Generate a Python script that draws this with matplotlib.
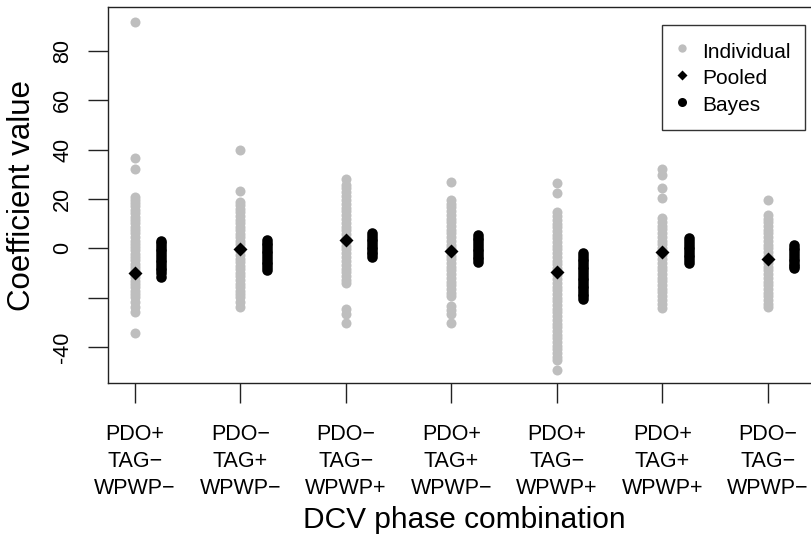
import matplotlib
matplotlib.use("Agg")
import matplotlib.pyplot as plt
from matplotlib.lines import Line2D

# --- data ---
categories = ["PDO+\nTAG\u2212\nWPWP\u2212", "PDO\u2212\nTAG+\nWPWP\u2212", "PDO\u2212\nTAG\u2212\nWPWP+",
              "PDO+\nTAG+\nWPWP\u2212", "PDO+\nTAG\u2212\nWPWP+", "PDO+\nTAG+\nWPWP+",
              "PDO\u2212\nTAG\u2212\nWPWP\u2212"]

ind_1 = [91.7, 36.7, 32.1, 20.9, 19.5, 18.2, 17.0, 15.6, 14.1, 12.8, 11.4, 10.1, 8.7, 7.2, 6.0, 4.6,
         3.1, 1.9, 0.5, -0.8, -2.2, -3.5, -4.9, -6.3, -7.6, -9.0, -10.4, -11.7, -13.1, -14.4, -15.8,
         -17.2, -18.5, -19.9, -21.6, -23.8, -25.7, -34.3]
ind_2 = [40.0, 23.2, 18.9, 17.4, 16.0, 14.5, 13.1, 11.6, 10.2, 8.8, 7.3, 5.9, 4.4, 3.0, 1.6, 0.1,
         -1.3, -2.8, -4.2, -5.7, -7.1, -8.5, -10.0, -11.4, -12.9, -14.3, -15.8, -17.2, -18.7,
         -19.8, -21.6, -23.6]
ind_3 = [28.2, 25.8, 24.4, 22.6, 21.0, 19.5, 18.0, 16.4, 14.9, 13.4, 11.8, 10.3, 8.7, 7.2, 5.7,
         4.1, 2.6, 1.1, -0.5, -2.0, -3.6, -5.1, -6.6, -8.2, -9.7, -11.2, -12.8, -14.0, -24.6,
         -26.8, -30.2]
ind_4 = [27.0, 19.6, 18.1, 16.6, 15.1, 13.6, 12.0, 10.5, 9.0, 7.5, 6.0, 4.5, 3.0, 1.5, 0.0, -1.5,
         -3.0, -4.5, -6.0, -7.5, -9.0, -10.5, -12.0, -13.5, -15.0, -16.5, -18.0, -19.2, -23.4,
         -25.0, -26.8, -30.2]
ind_5 = [26.4, 22.3, 14.5, 13.0, 11.5, 10.0, 8.5, 7.0, 5.5, 4.0, 2.5, 1.0, -0.5, -2.0, -3.5, -5.0,
         -6.5, -8.0, -9.5, -11.0, -12.5, -14.0, -15.5, -17.0, -18.5, -20.0, -21.5, -23.0, -24.5,
         -26.0, -27.5, -29.0, -30.5, -32.0, -33.5, -35.0, -36.5, -38.0, -39.5, -41.0, -42.5,
         -44.0, -45.3, -49.4]
ind_6 = [32.0, 29.7, 24.3, 20.2, 12.1, 10.6, 9.1, 7.6, 6.1, 4.6, 3.1, 1.6, 0.1, -1.4, -2.9, -4.4,
         -5.9, -7.4, -8.9, -10.4, -11.9, -13.4, -14.9, -16.4, -17.9, -19.4, -20.9, -22.4, -24.3]
ind_7 = [19.6, 13.5, 12.0, 10.5, 9.0, 7.5, 6.0, 4.5, 3.0, 1.5, 0.0, -1.5, -3.0, -4.5, -6.0, -7.5,
         -9.0, -10.5, -12.0, -13.5, -15.0, -16.5, -18.0, -19.5, -21.0, -22.4, -23.6]
individual = [ind_1, ind_2, ind_3, ind_4, ind_5, ind_6, ind_7]

pooled = [-10.0, -0.3, 3.4, -1.0, -9.5, -1.6, -4.5]

bayes_1 = [3.1, 2.0, 0.9, -0.2, -1.3, -2.4, -3.5, -4.6, -5.7, -6.8, -7.9, -9.0, -10.1, -11.5]
bayes_2 = [3.4, 2.3, 1.2, 0.1, -1.0, -2.1, -3.2, -4.3, -5.4, -6.5, -7.6, -9.0]
bayes_3 = [6.1, 5.0, 3.9, 2.8, 1.7, 0.6, -0.5, -1.6, -2.5, -3.4]
bayes_4 = [5.4, 4.3, 3.2, 2.1, 1.0, -0.1, -1.2, -2.3, -3.4, -4.4, -5.4]
bayes_5 = [-2.0, -3.1, -4.2, -5.3, -6.4, -7.5, -8.6, -9.7, -10.8, -11.9, -13.0, -14.1, -15.2,
           -16.3, -17.4, -18.5, -19.5, -20.5]
bayes_6 = [4.0, 2.9, 1.8, 0.7, -0.4, -1.5, -2.6, -3.7, -4.9, -6.1]
bayes_7 = [1.3, 0.2, -0.9, -2.0, -3.1, -4.2, -5.3, -6.4, -7.3, -8.1]
bayes = [bayes_1, bayes_2, bayes_3, bayes_4, bayes_5, bayes_6, bayes_7]

y_ticks = [-40, -20, 0, 20, 40, 60, 80]
y_tick_labels = ["-40", "", "0", "20", "40", "60", "80"]

bayes_offset = 0.25
grey = "#BEBEBE"


def main():
    plt.rcParams["font.family"] = ["Liberation Sans", "DejaVu Sans"]

    fig = plt.figure(figsize=(8.11, 5.37), dpi=100)
    ax = fig.add_axes([108.3 / 811, 1 - 383.3 / 537, (820.75 - 108.3) / 811, (383.3 - 7.3) / 537])

    # individual estimates (grey), pooled (diamond), Bayes (black, shifted right)
    for i, vals in enumerate(individual):
        ax.plot([i + 1] * len(vals), vals, "o", color=grey, ms=7.2, mec="none", zorder=2)
    ax.plot(range(1, len(pooled) + 1), pooled, "D", color="black", ms=7.2, mec="none", zorder=3)
    for i, vals in enumerate(bayes):
        ax.plot([i + 1 + bayes_offset] * len(vals), vals, "o", color="black", ms=7.6, mec="none",
                zorder=3)

    ax.set_xlim(0.75, 7.5)
    ax.set_ylim(-54.7, 97.6)

    ax.set_xticks(range(1, len(categories) + 1))
    ax.set_xticklabels(categories, fontsize=15.5, linespacing=1.36)
    ax.set_yticks(y_ticks)
    ax.set_yticklabels(y_tick_labels, fontsize=15.5, rotation=90, va="center")

    ax.tick_params(axis="both", length=14.4, width=1.0, color="#222222")
    ax.tick_params(axis="x", pad=15)
    ax.tick_params(axis="y", pad=11)
    for side in ax.spines.values():
        side.set_linewidth(1.0)
        side.set_color("#222222")

    ax.set_xlabel("DCV phase combination", fontsize=21.5, labelpad=5)
    ax.set_ylabel("Coefficient value", fontsize=22.5, labelpad=11)

    handles = [
        Line2D([], [], ls="none", marker="o", color=grey, mec="none", ms=6),
        Line2D([], [], ls="none", marker="D", color="black", mec="none", ms=5.2),
        Line2D([], [], ls="none", marker="o", color="black", mec="none", ms=6.5),
    ]
    leg = ax.legend(handles, ["Individual", "Pooled", "Bayes"], loc="upper left",
                    bbox_to_anchor=(662 / 811, 1 - 25 / 537), bbox_transform=fig.transFigure,
                    fontsize=15, frameon=True, fancybox=False, borderaxespad=0,
                    borderpad=0.68, handlelength=0.55, handleheight=1.3, handletextpad=0.7,
                    labelspacing=0.2)
    leg.get_frame().set_edgecolor("black")
    leg.get_frame().set_linewidth(1.0)

    fig.savefig("out.png", dpi=100)
    plt.close(fig)


if __name__ == "__main__":
    main()
